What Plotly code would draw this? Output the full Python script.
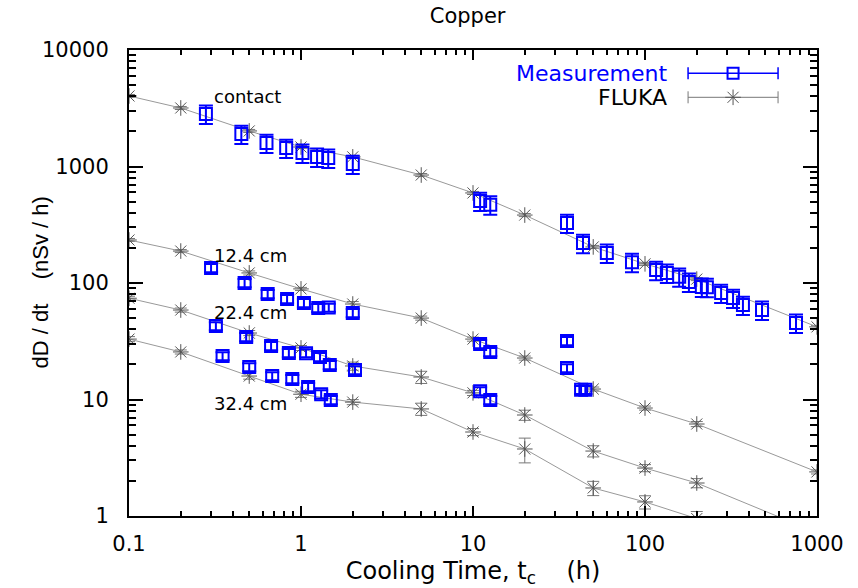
import plotly.graph_objects as go

# ---------------- data ----------------
fluka_t = [0.1, 0.2, 0.5, 1, 2, 5, 10, 20, 50, 100, 200, 1000]
fluka_contact = [4030, 3180, 2020, 1470, 1210, 845, 593, 383, 204, 146, 108, 42]
fluka_124 = [234, 188, 122, 89, 66, 50, 33, 22.7, 12.3, 8.45, 6.16, 2.39]
fluka_224 = [74, 58.6, 37.2, 27.7, 19.4, 15.6, 11.4, 7.36, 3.61, 2.58, 1.92, 0.72]
fluka_324 = [33, 25.6, 15.9, 11.1, 9.5, 8.3, 5.26, 3.76, 1.74, 1.32, 0.95, 0.3]

fluka_relerr_contact = [0.03] * 12
fluka_relerr_124 = [0.03, 0.03, 0.04, 0.03, 0.05, 0.04, 0.04, 0.04, 0.04, 0.04, 0.05, 0.04]
fluka_relerr_224 = [0.04, 0.04, 0.05, 0.05, 0.08, 0.12, 0.05, 0.10, 0.11, 0.07, 0.09, 0.10]
fluka_relerr_324 = [0.05, 0.04, 0.06, 0.06, 0.05, 0.12, 0.07, 0.24, 0.14, 0.13, 0.15, 0.15]

meas_contact_t = [0.28, 0.45, 0.63, 0.82, 1.02, 1.24, 1.44, 2.0, 11.0, 12.6, 35.2, 43.6, 60,
                  84, 116, 134, 158, 180, 214, 229, 277, 325, 371, 479, 755]
meas_contact = [2825, 1900, 1590, 1440, 1306, 1207, 1183, 1050, 505, 470, 327, 220, 181,
                151, 129, 122, 113, 102, 92.4, 92, 82, 74.3, 64.7, 58.7, 45.4]
meas_124_t = [0.30, 0.47, 0.64, 0.83, 1.04, 1.26, 1.45, 2.0, 11.0, 12.6, 35.2]
meas_124 = [134.6, 100, 80.5, 72.9, 67.4, 61, 61.5, 55.3, 30.0, 25.6, 31.8]
meas_224_t = [0.32, 0.48, 0.67, 0.85, 1.07, 1.29, 1.47, 2.06, 11.0, 12.6, 35.2, 42.5, 45.0]
meas_224 = [42.7, 34.4, 28.8, 25.1, 25.0, 23.2, 19.8, 17.9, 11.8, 9.9, 18.6, 12.1, 12.1]
meas_324_t = [0.35, 0.50, 0.68, 0.89, 1.10, 1.31, 1.49]
meas_324 = [23.6, 19.0, 15.9, 15.0, 12.8, 11.1, 9.9]
meas_relerr_contact = 0.18
meas_relerr_depth = 0.08

series_labels = ["contact", "12.4 cm", "22.4 cm", "32.4 cm"]
x_tickvals = [0.1, 1, 10, 100, 1000]
x_ticktext = ["0.1", "1", "10", "100", "1000"]
y_tickvals = [1, 10, 100, 1000, 10000]
y_ticktext = ["1", "10", "100", "1000", "10000"]

FONT = "DejaVu Sans"
BLUE = "#0000ff"
GRAY_LINE = "#999999"
STAR = "#555555"

fig = go.Figure()

for vals, rel in [(fluka_contact, fluka_relerr_contact), (fluka_124, fluka_relerr_124),
                  (fluka_224, fluka_relerr_224), (fluka_324, fluka_relerr_324)]:
    err = [v * r for v, r in zip(vals, rel)]
    fig.add_trace(go.Scatter(
        x=fluka_t, y=vals, mode="lines+markers", showlegend=False,
        line=dict(color=GRAY_LINE, width=1),
        marker=dict(symbol="asterisk-open", size=13, color=STAR, line=dict(color=STAR, width=1)),
        error_y=dict(type="data", array=err, arrayminus=err, color="#777777", thickness=1, width=6),
    ))

for tt, vals, rel in [(meas_contact_t, meas_contact, meas_relerr_contact),
                      (meas_124_t, meas_124, meas_relerr_depth),
                      (meas_224_t, meas_224, meas_relerr_depth),
                      (meas_324_t, meas_324, meas_relerr_depth)]:
    err = [v * rel for v in vals]
    fig.add_trace(go.Scatter(
        x=tt, y=vals, mode="markers", showlegend=False,
        marker=dict(symbol="square-open", size=12, color=BLUE, line=dict(color=BLUE, width=2)),
        error_y=dict(type="data", array=err, arrayminus=err, color=BLUE, thickness=2, width=7),
    ))

# legend samples on an overlay axis (0..1)
fig.add_trace(go.Scatter(
    x=[0.878], y=[0.950], xaxis="x2", yaxis="y2", mode="markers", showlegend=False,
    marker=dict(symbol="square-open", size=11, color=BLUE, line=dict(color=BLUE, width=2)),
    error_x=dict(type="constant", value=0.0654, color=BLUE, thickness=1.5, width=6),
))
fig.add_trace(go.Scatter(
    x=[0.878], y=[0.8985], xaxis="x2", yaxis="y2", mode="markers", showlegend=False,
    marker=dict(symbol="asterisk-open", size=13, color=STAR, line=dict(color=STAR, width=1)),
    error_x=dict(type="constant", value=0.0654, color="#777777", thickness=1, width=6),
))

annotations = [
    dict(x=0.785, y=0.950, xref="paper", yref="paper", text="Measurement", showarrow=False,
         xanchor="right", yanchor="middle", font=dict(family=FONT, size=22, color=BLUE)),
    dict(x=0.785, y=0.8985, xref="paper", yref="paper", text="FLUKA", showarrow=False,
         xanchor="right", yanchor="middle", font=dict(family=FONT, size=22, color="black")),
    dict(x=-0.13, y=0.5, xref="paper", yref="paper", text="dD / dt    (nSv / h)",
         showarrow=False, textangle=-90, xanchor="center", yanchor="middle",
         font=dict(family="Liberation Sans", size=22, color="black")),
]
label_pos_y = [3.597, 2.232, 1.751, 0.970]
for lab, ly in zip(series_labels, label_pos_y):
    annotations.append(dict(x=-0.517, y=ly, xref="x", yref="y", text=lab, showarrow=False,
                            xanchor="left", yanchor="middle",
                            font=dict(family=FONT, size=18, color="black")))

minor_vals = [m * 10 ** e for e in range(-1, 4) for m in range(2, 10)]

fig.update_layout(
    width=858, height=588,
    margin=dict(l=129, r=41, t=50, b=72),
    paper_bgcolor="white", plot_bgcolor="white",
    font=dict(family=FONT, size=21, color="black"),
    title=dict(text="Copper", x=0.545, xanchor="center", y=0.974, yref="container",
               yanchor="middle", font=dict(family=FONT, size=21, color="black")),
    xaxis=dict(type="log", range=[-1, 3], showgrid=False, zeroline=False, automargin=False,
               showline=True, linecolor="black", linewidth=2, mirror="allticks",
               ticks="inside", ticklen=10, tickwidth=2, tickcolor="black",
               tickmode="array", tickvals=x_tickvals, ticktext=x_ticktext,
               tickfont=dict(family=FONT, size=21), ticklabelstandoff=8,
               minor=dict(tickmode="array", tickvals=minor_vals, ticks="inside", ticklen=5,
                          tickwidth=2, tickcolor="black", showgrid=False),
               title=dict(text="Cooling Time, t<sub>c</sub>    (h)", standoff=10,
                          font=dict(family=FONT, size=24))),
    yaxis=dict(type="log", range=[0, 4], showgrid=False, zeroline=False, automargin=False,
               showline=True, linecolor="black", linewidth=2, mirror="allticks",
               ticks="inside", ticklen=14, tickwidth=2, tickcolor="black",
               tickmode="array", tickvals=y_tickvals, ticktext=y_ticktext,
               tickfont=dict(family=FONT, size=21), ticklabelstandoff=14,
               minor=dict(tickmode="array", tickvals=[v for v in minor_vals if v >= 1],
                          ticks="inside", ticklen=7, tickwidth=2, tickcolor="black", showgrid=False)),
    xaxis2=dict(overlaying="x", anchor="y2", range=[0, 1], visible=False),
    yaxis2=dict(overlaying="y", anchor="x2", range=[0, 1], visible=False),
    annotations=annotations,
)

fig.write_html("out.html")
